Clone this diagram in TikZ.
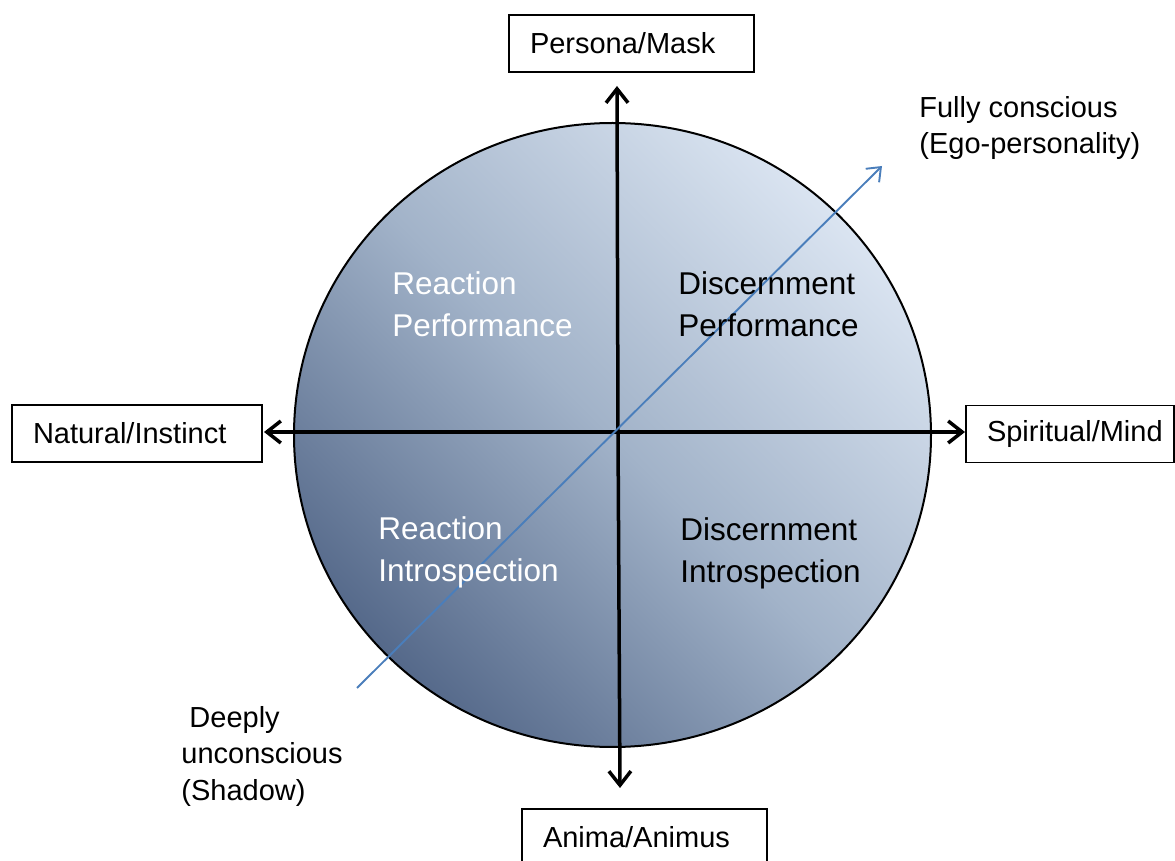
\documentclass[tikz,border=0pt]{standalone}
\usepackage{fontspec}
\setmainfont{Liberation Sans}
\usetikzlibrary{arrows.meta}

\definecolor{shadelight}{HTML}{DAE4F1}
\definecolor{shademid}{HTML}{A2B3C9}
\definecolor{shadedark}{HTML}{55698A}
\definecolor{conscblue}{HTML}{4A7EBB}

\begin{document}
\begin{tikzpicture}[x=0.5pt,y=-0.5pt,
  labelbox/.style={draw=black, line width=0.85pt, inner xsep=10.5pt, inner ysep=0pt,
    minimum height=28.5pt, align=left, anchor=center,
    font=\fontsize{14.5}{17}\selectfont},
  quadtext/.style={anchor=base west, inner sep=0pt, align=left,
    font=\fontsize{15.75}{21}\selectfont},
  sidetext/.style={anchor=base west, inner sep=0pt, align=left,
    font=\fontsize{14.5}{18.25}\selectfont},
  axisarrow/.style={line width=1.75pt, -{Straight Barb[length=7pt,width=11pt]}},
  consc/.style={draw=conscblue, line width=0.95pt, -{Straight Barb[length=6pt,width=9.5pt]}}
]
\clip (0,0) rectangle (1175,861);

% shaded disc
\path[top color=shadelight, bottom color=shadedark, middle color=shademid, shading angle=-45]
  (612.5,435) ellipse [x radius=318.5, y radius=312];
\draw[line width=1pt] (612.5,435) ellipse [x radius=318.5, y radius=312];

% pole boxes
\node[labelbox, text width=101.5pt] (mask)   at (631.5,43.5)  {Persona/Mask};
\node[labelbox, text width=104pt]   (nature) at (137,433.5)   {Natural/Instinct};
\node[labelbox, text width=83pt]    (spirit) at (1070,434)    {Spiritual/Mind};
\node[labelbox, text width=101.5pt] (anima)  at (644.5,837.5) {Anima/Animus};

% axes
\coordinate (O)    at (618,432);
\coordinate (up)   at (617,86);
\coordinate (down) at (620,788);
\coordinate (west) at (264,432);
\coordinate (east) at (965,432);
\draw[axisarrow] (O) -- (up);
\draw[axisarrow] (O) -- (down);
\draw[axisarrow] (O) -- (west);
\draw[axisarrow] (O) -- (east);

% consciousness diagonal
\coordinate (deep) at (357,688);
\coordinate (full) at (882,166);
\draw[consc] (deep) -- (full);

% quadrant labels (anchored on the baseline of the last line)
\node[quadtext, text=white] (rp) at (392,337) {Reaction\\Performance};
\node[quadtext, text=black] (dp) at (678,337) {Discernment\\Performance};
\node[quadtext, text=white] (ri) at (378,582) {Reaction\\Introspection};
\node[quadtext, text=black] (di) at (680,583) {Discernment\\Introspection};

% ends of the diagonal
\node[sidetext] (fulltxt) at (919,154) {Fully conscious\\(Ego-personality)};
\node[sidetext] (deeptxt) at (181,800) {\ Deeply\\unconscious\\(Shadow)};
\end{tikzpicture}
\end{document}
